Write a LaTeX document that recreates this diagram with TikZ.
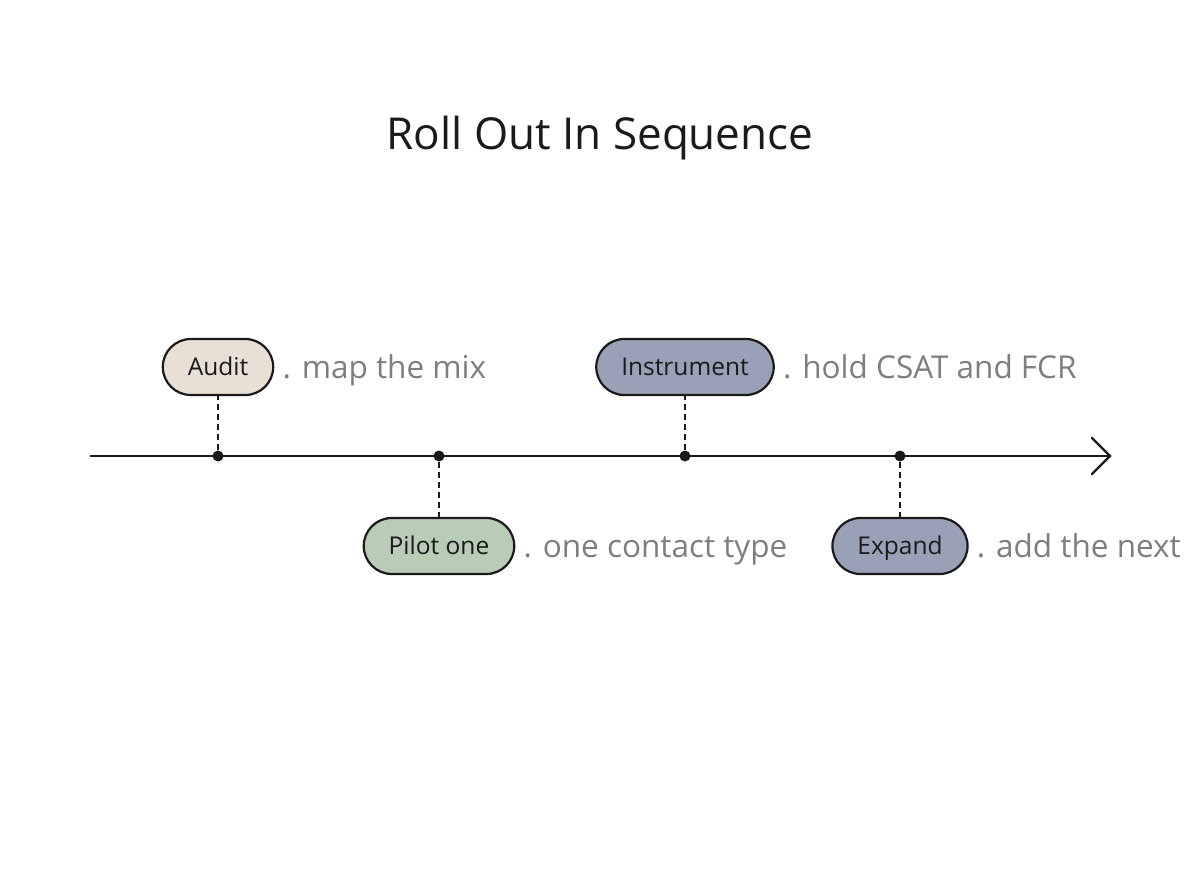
\documentclass[tikz,border=0pt]{standalone}
\usepackage{fontspec}
\setmainfont{Open Sans}
\usetikzlibrary{positioning}
\definecolor{ink}{HTML}{1A1A1A}
\definecolor{note}{HTML}{7E7E7E}
\definecolor{sand}{HTML}{E8DFD5}
\definecolor{sage}{HTML}{B9CCB6}
\definecolor{slate}{HTML}{98A1B6}
\tikzset{
  pill/.style={draw=ink, line width=2.2pt, rounded corners=28pt, minimum height=56pt, inner xsep=25pt, inner ysep=0pt, text height=17pt, text depth=0pt, text=ink, font=\fontsize{24.5}{28}\selectfont},
  note/.style={anchor=base west, text=note, font=\fontsize{31.5}{36}\selectfont, inner sep=0pt},
  dot/.style={circle, fill=ink, inner sep=0pt, minimum size=11pt},
  link/.style={draw=ink, line width=2pt, dash pattern=on 6pt off 4pt},
  axis/.style={draw=ink, line width=2.2pt}
}
\begin{document}
\begin{tikzpicture}[x=1pt, y=-1pt]
\useasboundingbox (0,0) rectangle (1200,896);
\node[text=ink, font=\fontsize{44}{52}\selectfont] (title) at (600,138) {Roll Out In Sequence};
\coordinate (start) at (90,456);
\coordinate (end) at (1110,456);
\draw[axis] (start) -- (end);
\draw[axis, line cap=round, line join=miter] (1092,438) -- (end) -- (1092,474);
\node[dot] (d1) at (218,456) {};
\node[dot] (d2) at (439,456) {};
\node[dot] (d3) at (685,456) {};
\node[dot] (d4) at (900,456) {};
\node[pill, fill=sand] (p1) at (218,367) {Audit};
\node[pill, fill=sage] (p2) at (439,546) {Pilot one};
\node[pill, fill=slate] (p3) at (685,367) {Instrument};
\node[pill, fill=slate] (p4) at (900,546) {Expand};
\draw[link] (d1) -- (p1.south);
\draw[link] (d2) -- (p2.north);
\draw[link] (d3) -- (p3.south);
\draw[link] (d4) -- (p4.north);
\node[note] (n1) at ([xshift=8pt,yshift=-11pt]p1.east) {. map the mix};
\node[note] (n2) at ([xshift=8pt,yshift=-11pt]p2.east) {. one contact type};
\node[note] (n3) at ([xshift=8pt,yshift=-11pt]p3.east) {. hold CSAT and FCR};
\node[note] (n4) at ([xshift=8pt,yshift=-11pt]p4.east) {. add the next};
\end{tikzpicture}
\end{document}
